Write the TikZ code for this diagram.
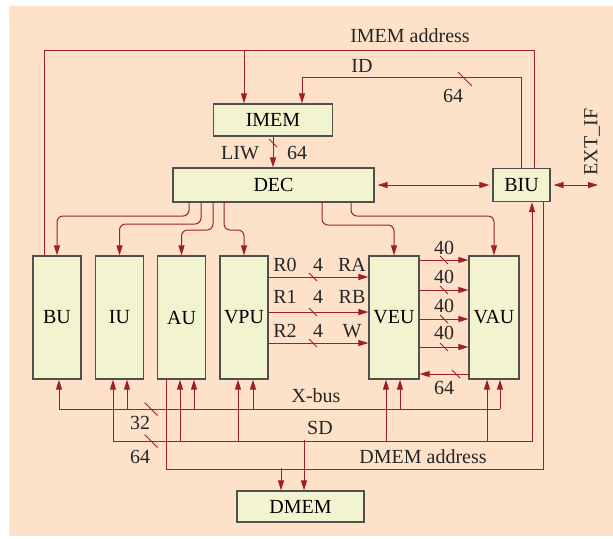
\documentclass[tikz,border=0pt]{standalone}
\usepackage{fontspec}
\setmainfont{Liberation Serif}
\usetikzlibrary{arrows.meta}
\usetikzlibrary{calc}
\definecolor{mpaper}{RGB}{253,226,201}
\definecolor{mcell}{RGB}{242,244,208}
\definecolor{mwire}{RGB}{160,30,40}
\definecolor{medge}{RGB}{80,80,80}
\tikzset{box/.style = {draw=medge, fill=mcell, line width=0.6pt, inner sep=0}}
\tikzset{unitbox/.style = {box, minimum width=24pt, minimum height=61.5pt}}
\tikzset{lbl/.style = {inner sep=0, text=black!85}}
\tikzset{sig/.style = {draw=mwire, line width=0.5pt}}
\tikzset{arr/.style = {sig, -{Triangle[length=5pt, width=3pt]}}}
\tikzset{darr/.style = {sig, {Triangle[length=5pt, width=3pt]}-{Triangle[length=5pt, width=3pt]}}}
\newcommand{\busmark}[2][4]{\draw [sig] ($(#2)+(-#1,-#1)$) -- ($(#2)+(#1,#1)$);}

\begin{document}
\begin{tikzpicture}[x=0.5pt, y=-0.5pt]
  \useasboundingbox (0,0) rectangle (613,538);
  \fill [mpaper] (9,6) rectangle (613,536);

  % boxes
  \node [box, minimum width=59.5pt, minimum height=16pt] (IMEM) at (273,120) {IMEM};
  \node [box, minimum width=100.5pt, minimum height=17pt] (DEC) at (273.5,185) {DEC};
  \node [box, minimum width=28.5pt, minimum height=16.5pt] (BIU) at (521.5,185) {BIU};
  \node [unitbox] (BU) at (57,317.5) {BU};
  \node [unitbox] (IU) at (119.5,317.5) {IU};
  \node [unitbox] (AU) at (181.5,317.5) {AU};
  \node [unitbox] (VPU) at (244,317.5) {VPU};
  \node [unitbox, minimum width=25pt] (VEU) at (394,317.5) {VEU};
  \node [unitbox, minimum width=25pt] (VAU) at (494,317.5) {VAU};
  \node [box, minimum width=63.5pt, minimum height=15.5pt] (DMEM) at (300.5,506.5) {DMEM};

  % instruction side
  \coordinate (iaW) at (44,50);
  \coordinate (iaE) at (534,50);
  \coordinate (iaT) at (244,50);
  \draw [sig] (BU.north -| iaW) -- (iaW) -- (iaE) -- (BIU.north -| iaE);
  \draw [arr] (iaT) -- (IMEM.north -| iaT);
  \node [lbl] (lIMEMaddr) at (410,36) {IMEM address};

  \coordinate (idW) at (302,77);
  \coordinate (idE) at (521,77);
  \draw [arr] (BIU.north -| idE) -- (idE) -- (idW) -- (IMEM.north -| idW);
  \busmark[7]{465,79}
  \node [lbl] (lID) at (362,66) {ID};
  \node [lbl] (lIDw) at (453,96) {64};

  \draw [arr] (IMEM.south) -- (IMEM.south |- DEC.north);
  \busmark{273,143}
  \node [lbl] (lLIW) at (240,153) {LIW};
  \node [lbl] (lLIWw) at (297,153) {64};

  \coordinate (extIF) at (598,185);
  \draw [darr, shorten <=1.5pt, shorten >=1.5pt] (DEC.east) -- (BIU.west);
  \draw [darr, shorten <=1.5pt] (BIU.east) -- (extIF);
  \node [lbl, rotate=90] (lEXT) at (592,142) {EXT\_IF};

  % decoder to units
  \coordinate (dBU) at (189,216);
  \coordinate (dIU) at (201,224);
  \coordinate (dAU) at (213,230);
  \coordinate (dVPU) at (224,230);
  \coordinate (dVEU) at (322,225);
  \coordinate (dVAU) at (351,216);
  \draw [arr, rounded corners=3pt] (DEC.south -| dBU) |- (BU.north |- dBU) -- (BU.north);
  \draw [arr, rounded corners=3pt] (DEC.south -| dIU) |- (IU.north |- dIU) -- (IU.north);
  \draw [arr, rounded corners=3pt] (DEC.south -| dAU) |- (AU.north |- dAU) -- (AU.north);
  \draw [arr, rounded corners=3pt] (DEC.south -| dVPU) |- (VPU.north |- dVPU) -- (VPU.north);
  \draw [arr, rounded corners=3pt] (DEC.south -| dVEU) |- (VEU.north |- dVEU) -- (VEU.north);
  \draw [arr, rounded corners=3pt] (DEC.south -| dVAU) |- (VAU.north |- dVAU) -- (VAU.north);

  % register ports
  \coordinate (r0) at (0,277);
  \coordinate (r1) at (0,312);
  \coordinate (r2) at (0,343);
  \draw [arr] (VPU.east |- r0) -- (VEU.west |- r0);
  \draw [arr] (VPU.east |- r1) -- (VEU.west |- r1);
  \draw [arr] (VPU.east |- r2) -- (VEU.west |- r2);
  \busmark{313,277}
  \busmark{313,312}
  \busmark{313,343}
  \node [lbl] (lR0) at (285,265) {R0};
  \node [lbl] (lR1) at (285,297) {R1};
  \node [lbl] (lR2) at (285,331) {R2};
  \node [lbl] (lR0w) at (318,265) {4};
  \node [lbl] (lR1w) at (318,297) {4};
  \node [lbl] (lR2w) at (318,331) {4};
  \node [lbl] (lRA) at (352,265) {RA};
  \node [lbl] (lRB) at (352,297) {RB};
  \node [lbl] (lW) at (352,331) {W};

  % VEU <-> VAU
  \coordinate (v0) at (0,260);
  \coordinate (v1) at (0,290);
  \coordinate (v2) at (0,319);
  \coordinate (v3) at (0,347);
  \coordinate (vb) at (0,374);
  \draw [arr] (VEU.east |- v0) -- (VAU.west |- v0);
  \draw [arr] (VEU.east |- v1) -- (VAU.west |- v1);
  \draw [arr] (VEU.east |- v2) -- (VAU.west |- v2);
  \draw [arr] (VEU.east |- v3) -- (VAU.west |- v3);
  \draw [arr] (VAU.west |- vb) -- (VEU.east |- vb);
  \busmark{444,260}
  \busmark{444,290}
  \busmark{444,319}
  \busmark{444,347}
  \busmark{456,374}
  \node [lbl] (lv0) at (444,248) {40};
  \node [lbl] (lv1) at (444,277) {40};
  \node [lbl] (lv2) at (444,306) {40};
  \node [lbl] (lv3) at (444,333) {40};
  \node [lbl] (lvb) at (444,388) {64};

  % X-bus
  \coordinate (xbW) at (59,409);
  \coordinate (xbE) at (500,409);
  \draw [sig] (xbW) -- (xbE);
  \draw [arr] (xbW) -- (BU.south -| xbW);
  \draw [arr] (xbE) -- (VAU.south -| xbE);
  \draw [arr] (IU.south) ++(7.5,30) -- ++(0,-30);
  \draw [arr] (AU.south) ++(12.5,30) -- ++(0,-30);
  \draw [arr] (VPU.south) ++(9,30) -- ++(0,-30);
  \draw [arr] (VEU.south) ++(6,30) -- ++(0,-30);
  \busmark[6.5]{151,409}
  \node [lbl] (lXbus) at (316,396) {X-bus};
  \node [lbl] (lXbusw) at (140,423) {32};

  % SD
  \coordinate (sdW) at (113,441);
  \coordinate (sdE) at (532,441);
  \draw [arr] (sdW) -- (sdE) -- (BIU.south -| sdE);
  \draw [arr] (sdW) -- (IU.south -| sdW);
  \draw [arr] (AU.south) ++(-1.5,62) -- ++(0,-62);
  \draw [arr] (VPU.south) ++(-6,62) -- ++(0,-62);
  \draw [arr] (VEU.south) ++(-8,62) -- ++(0,-62);
  \draw [arr] (VAU.south) ++(-7,62) -- ++(0,-62);
  \draw [arr] (DMEM.north) ++(3.5,-50) -- ++(0,50);
  \busmark[6.5]{151,441}
  \node [lbl] (lSD) at (320,428) {SD};
  \node [lbl] (lSDw) at (140,457) {64};

  % DMEM address
  \coordinate (daW) at (166,469);
  \coordinate (daE) at (543,469);
  \draw [sig] (AU.south -| daW) -- (daW) -- (daE) -- (BIU.south -| daE);
  \draw [arr] (DMEM.north) ++(-19.5,-22) -- ++(0,22);
  \node [lbl] (lDMEMaddr) at (423,457) {DMEM address};
\end{tikzpicture}
\end{document}
